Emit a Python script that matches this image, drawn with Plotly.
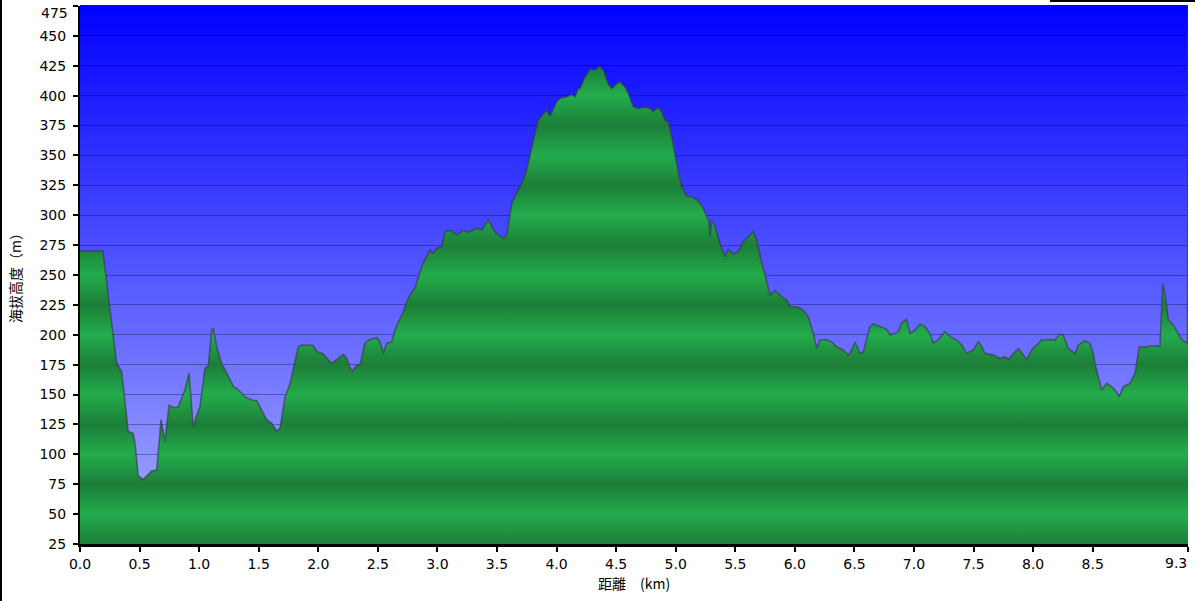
import plotly.graph_objects as go

# ---- data ----
dist_km = [0.000, 0.193, 0.238, 0.308, 0.350, 0.405, 0.447, 0.462, 0.489, 0.531,
           0.602, 0.644, 0.680, 0.713, 0.747, 0.797, 0.825, 0.881, 0.915, 0.951,
           0.980, 1.007, 1.049, 1.077, 1.105, 1.119, 1.147, 1.189, 1.287, 1.329,
           1.385, 1.455, 1.483, 1.525, 1.567, 1.609, 1.651, 1.679, 1.721, 1.763,
           1.832, 1.861, 1.958, 1.987, 2.042, 2.113, 2.210, 2.239, 2.281, 2.322,
           2.350, 2.392, 2.434, 2.490, 2.518, 2.546, 2.574, 2.616, 2.658, 2.714,
           2.742, 2.784, 2.812, 2.840, 2.881, 2.938, 2.965, 2.994, 3.036, 3.064,
           3.106, 3.162, 3.217, 3.259, 3.330, 3.372, 3.427, 3.483, 3.553, 3.582,
           3.624, 3.665, 3.707, 3.749, 3.791, 3.819, 3.847, 3.903, 3.917, 3.945,
           4.001, 4.029, 4.085, 4.127, 4.155, 4.182, 4.197, 4.239, 4.281, 4.323,
           4.359, 4.392, 4.434, 4.463, 4.505, 4.532, 4.574, 4.602, 4.644, 4.686,
           4.742, 4.784, 4.812, 4.854, 4.882, 4.910, 4.938, 4.966, 4.994, 5.022,
           5.050, 5.092, 5.134, 5.190, 5.232, 5.254, 5.280, 5.288, 5.302, 5.330,
           5.372, 5.414, 5.441, 5.483, 5.525, 5.567, 5.624, 5.651, 5.680, 5.722,
           5.750, 5.792, 5.834, 5.890, 5.932, 5.959, 6.016, 6.071, 6.113, 6.155,
           6.184, 6.211, 6.268, 6.309, 6.351, 6.407, 6.449, 6.477, 6.505, 6.547,
           6.575, 6.631, 6.659, 6.714, 6.771, 6.799, 6.841, 6.868, 6.897, 6.939,
           6.967, 7.009, 7.051, 7.093, 7.134, 7.162, 7.204, 7.260, 7.302, 7.359,
           7.401, 7.443, 7.498, 7.540, 7.568, 7.596, 7.666, 7.722, 7.764, 7.792,
           7.834, 7.876, 7.918, 7.946, 7.988, 8.030, 8.072, 8.142, 8.183, 8.226,
           8.253, 8.295, 8.352, 8.379, 8.435, 8.477, 8.505, 8.519, 8.575, 8.617,
           8.659, 8.687, 8.723, 8.757, 8.813, 8.855, 8.891, 8.939, 8.981, 9.065,
           9.088, 9.115, 9.135, 9.177, 9.220, 9.248, 9.295, 9.300]

elev_m = [270, 270, 232, 176, 169, 119, 117.5, 109, 82, 79,
          86, 87, 129, 111, 141, 139, 140, 154, 168, 123,
          133, 140, 172, 174, 204, 205, 190, 176, 157, 154,
          148, 145, 145, 137, 129, 126, 119.5, 122, 148, 159,
          190, 191.5, 191, 186, 184, 176, 183.6, 180, 169, 174.7,
          174.7, 193, 196, 197.6, 194, 184.5, 193, 194, 208, 219,
          227.7, 236, 239, 248.6, 260, 271, 268, 272.4, 273.7, 286,
          287.6, 283.5, 287.6, 285.7, 289, 287.6, 296, 286, 280.7, 283.5,
          310, 318.3, 326.7, 337.8, 357.3, 368.5, 379.6, 386.6, 388, 383,
          395, 397.8, 399, 401, 399, 406, 406, 415.8, 422, 421.5,
          424.8, 421.5, 410, 406, 410, 411.7, 407.5, 402, 390.8, 389.4,
          390.3, 389.4, 386.6, 390.3, 386.6, 379.6, 378.2, 365.7, 349, 336,
          324, 316, 315.5, 312, 305.8, 300, 295, 282, 296, 290.4,
          276.5, 265.3, 271.5, 267.6, 269.5, 277.9, 283.5, 286.8, 279, 259.8,
          250, 233.3, 236.9, 231.9, 229, 223.5, 223.5, 220.7, 215, 201,
          188.6, 195.6, 196, 194, 190, 187.3, 183, 187.3, 194, 184.5,
          185.8, 206.8, 209, 206.8, 204.6, 200, 201, 202.6, 210, 213,
          201, 204, 208.8, 206.8, 201, 192.9, 195.6, 202.6, 198.4, 195.6,
          191.5, 184.5, 187.3, 194, 190, 184.5, 183, 180.3, 181.7, 179.5,
          184.5, 188.6, 183, 179.5, 187.3, 191.5, 195.6, 196, 195.6, 200.6,
          199.7, 188.6, 184.5, 191.5, 195, 192.9, 184.5, 176, 153.8, 159.4,
          156.6, 153.8, 148.2, 156.6, 159.4, 167.7, 190, 189.5, 190.6, 190.6,
          243, 229, 212.4, 208.2, 201, 195.6, 192.9, 475]

x_tick_vals = [0.0, 0.5, 1.0, 1.5, 2.0, 2.5, 3.0, 3.5, 4.0, 4.5, 5.0, 5.5,
               6.0, 6.5, 7.0, 7.5, 8.0, 8.5, 9.3]
x_tick_text = ["0.0", "0.5", "1.0", "1.5", "2.0", "2.5", "3.0", "3.5", "4.0",
               "4.5", "5.0", "5.5", "6.0", "6.5", "7.0", "7.5", "8.0", "8.5", "9.3"]
y_tick_vals = list(range(25, 476, 25))
y_tick_text = [str(v) for v in y_tick_vals]

x_title = "距離　(km)"
y_title = "海拔高度（m）"

# ---- styling ----
Y_MIN, Y_MAX = 25, 475
X_MIN, X_MAX = 0.0, 9.3
DARK_G = "#1c7e38"
LIGHT_G = "#23ac4c"
band_scale = []
n_steps = (Y_MAX - Y_MIN) // 25
for i in range(n_steps + 1):
    band_scale.append([i / n_steps, DARK_G if i % 2 == 0 else LIGHT_G])

fig = go.Figure()
fig.add_trace(go.Scatter(
    x=dist_km, y=elev_m, mode="lines", fill="tozeroy",
    line=dict(color="rgba(55,55,70,0.6)", width=1.6),
    fillgradient=dict(type="vertical", colorscale=band_scale,
                      start=Y_MIN, stop=Y_MAX),
    hoverinfo="x+y", showlegend=False,
))

# background gradient (blue at top, pale at bottom)
shapes = []
N = 120
top = (0, 0, 255)
bot = (168, 174, 255)
for i in range(N):
    f = (i + 0.5) / N
    r = round(top[0] + (bot[0] - top[0]) * f)
    g = round(top[1] + (bot[1] - top[1]) * f)
    b = round(top[2] + (bot[2] - top[2]) * f)
    shapes.append(dict(type="rect", xref="x domain", yref="y domain",
                       x0=0, x1=1, y0=1 - (i + 1) / N, y1=1 - i / N + 0.002,
                       fillcolor=f"rgb({r},{g},{b})", line=dict(width=0),
                       layer="below"))

# figure frame fragments (left and top-right border lines)
W, H = 1195, 601
ML, MR, MT, MB = 80, 7, 6, 57
pw, ph = W - ML - MR, H - MT - MB
def px_to_paper_x(px):
    return (px - ML) / pw
def py_to_paper_y(py):
    return (H - MB - py) / ph
shapes.append(dict(type="line", xref="paper", yref="paper",
                   x0=px_to_paper_x(1), x1=px_to_paper_x(1),
                   y0=py_to_paper_y(H), y1=py_to_paper_y(0),
                   line=dict(color="black", width=2), layer="above"))
shapes.append(dict(type="line", xref="paper", yref="paper",
                   x0=px_to_paper_x(1050), x1=px_to_paper_x(W),
                   y0=py_to_paper_y(1), y1=py_to_paper_y(1),
                   line=dict(color="black", width=2), layer="above"))

tick_font = dict(family="DejaVu Sans", size=14, color="black")
title_font = dict(family="Noto Sans CJK JP", size=14, color="black")

# edge tick labels are nudged inside the figure (as in the reference)
x_text_axis = x_tick_text[:-1] + [""]
y_text_axis = y_tick_text[:-1] + [""]

fig.update_layout(
    width=W, height=H, autosize=False,
    margin=dict(l=ML, r=MR, t=MT, b=MB, autoexpand=False),
    paper_bgcolor="white",
    plot_bgcolor="rgba(0,0,0,0)",
    shapes=shapes,
    xaxis=dict(range=[X_MIN, X_MAX], tickvals=x_tick_vals, ticktext=x_text_axis,
               ticks="outside", ticklen=5, tickwidth=2, tickcolor="black",
               showline=True, linewidth=3, linecolor="black",
               showgrid=False, zeroline=False, tickfont=tick_font,
               automargin=False,
               layer="above traces", fixedrange=True),
    yaxis=dict(range=[Y_MIN, Y_MAX], tickvals=y_tick_vals, ticktext=y_text_axis,
               ticks="outside", ticklen=5, tickwidth=2, tickcolor="black",
               showline=True, linewidth=2, linecolor="black",
               showgrid=True, gridcolor="rgba(0,0,20,0.32)", gridwidth=1,
               zeroline=False, tickfont=tick_font, ticklabelstandoff=4,
               automargin=False,
               layer="above traces", fixedrange=True),
    annotations=[
        dict(text=x_title, xref="paper", yref="paper", x=0.5, y=0,
             xanchor="center", yanchor="middle", yshift=-39,
             showarrow=False, font=title_font),
        dict(text=y_title, xref="paper", yref="paper", x=0, y=0.5,
             xanchor="center", yanchor="middle", xshift=-65,
             textangle=-90, showarrow=False, font=title_font),
        dict(text=x_tick_text[-1], xref="x", yref="paper", x=x_tick_vals[-1], y=0,
             xanchor="right", yanchor="top", yshift=-9, xshift=1,
             showarrow=False, font=tick_font),
        dict(text=y_tick_text[-1], xref="paper", yref="y", x=0, y=y_tick_vals[-1],
             xanchor="right", yanchor="top", xshift=-10, yshift=3,
             showarrow=False, font=tick_font),
    ],
)

fig.write_html("out.html",
               config={"responsive": False, "displayModeBar": False,
                       "staticPlot": True},
               post_script="document.body.style.margin='0px';"
                           "document.body.style.padding='0px';"
                           "document.documentElement.style.overflow='hidden';")
